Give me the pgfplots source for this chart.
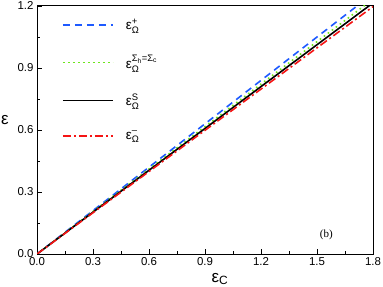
\documentclass[border=0pt]{standalone}
\usepackage{fontspec}
\setmainfont{Liberation Sans}
\newfontfamily\serifb{Liberation Serif}
\usepackage{amsmath}
\usepackage{pgfplots}
\pgfplotsset{compat=1.18}
\definecolor{cblue}{RGB}{30,90,255}
\definecolor{cgreen}{RGB}{110,230,30}
\definecolor{myred}{RGB}{245,20,20}
\begin{document}
\begin{tikzpicture}
\path[use as bounding box] (-37bp,-33bp) rectangle (346bp,254bp);
\begin{axis}[
  at={(0,0)}, anchor=origin,
  scale only axis, width=336bp, height=248bp,
  xmin=0, xmax=1.8, ymin=0, ymax=1.2,
  xtick={0,0.3,...,1.8}, ytick={0,0.3,...,1.2},
  minor x tick num=1, minor y tick num=1,
  xticklabel style={/pgf/number format/fixed,/pgf/number format/fixed zerofill,/pgf/number format/precision=1},
  yticklabel style={/pgf/number format/fixed,/pgf/number format/fixed zerofill,/pgf/number format/precision=1},
  /pgf/number format/assume math mode=true,
  tick label style={font=\fontsize{11.5}{12}\selectfont},
  tick align=inside, xtick pos=bottom, ytick pos=left,
  major tick length=5bp, minor tick length=3bp,
  axis line style={line width=1bp},
  tick style={black, line width=0.6bp},
  clip=true,
  legend cell align=left,
  legend style={at={(22bp,239bp)}, anchor=north west, draw=none, fill=none,
     font=\fontsize{13.5}{14}\selectfont, row sep=20bp,
     /tikz/every odd column/.style={column sep=10bp}},
  legend image code/.code={\draw[line width=1.6bp,#1] (0bp,0bp) -- (50bp,0bp);},
]
\addplot[cblue, line width=1.6bp, dash pattern=on 7bp off 5bp] coordinates {(0,0) (0.3,0.21) (0.6,0.42) (0.9,0.63) (1.2,0.84) (1.5,1.05) (1.8,1.26)};
\addlegendentry{ε$^{\text{+}}_{\text{Ω}}$}
\addplot[cgreen, line width=1.6bp, dash pattern=on 1.6bp off 3.4bp] coordinates {(0,0) (0.3,0.2055) (0.6,0.411) (0.9,0.6165) (1.2,0.822) (1.5,1.0275) (1.8,1.233)};
\addlegendentry{ε$^{\text{Σ}_{\text{h}}\text{=Σ}_{\text{c}}}_{\text{Ω}}$}
\addplot[black, line width=1.6bp] coordinates {(0,0) (0.3,0.2025) (0.6,0.405) (0.9,0.6075) (1.2,0.81) (1.5,1.0125) (1.8,1.215)};
\addlegendentry{ε$^{\text{S}}_{\text{Ω}}$}
\addplot[color=myred, line width=1.6bp, dash pattern=on 8bp off 3bp on 2bp off 3bp] coordinates {(0,0) (0.3,0.1995) (0.6,0.399) (0.9,0.5985) (1.2,0.798) (1.5,0.9975) (1.8,1.197)};
\addlegendentry{ε$^{\text{–}}_{\text{Ω}}$}
\node[font=\serifb\fontsize{11}{12}\selectfont] at (axis cs:1.55,0.095) {(b)};
\end{axis}
\node[font=\fontsize{17}{18}\selectfont] at (-32bp,134bp) {ε};
\node[font=\fontsize{17}{18}\selectfont] at (183bp,-25bp) {ε$_{\text{\fontsize{12}{12}\selectfont C}}$};
\end{tikzpicture}
\end{document}
